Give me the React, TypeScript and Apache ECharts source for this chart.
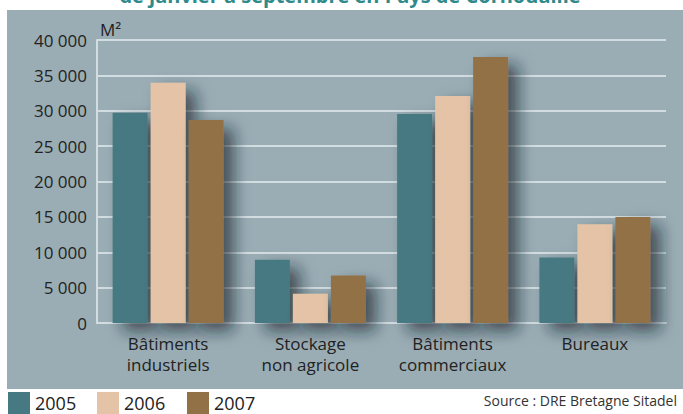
import React, { useEffect, useRef } from "react";
import * as echarts from "echarts";

const categories = ["Bâtiments\nindustriels", "Stockage\nnon agricole", "Bâtiments\ncommerciaux", "Bureaux"];
const years = ["2005", "2006", "2007"];
const values2005 = [29700, 8950, 29550, 9250];
const values2006 = [33950, 4150, 32100, 13950];
const values2007 = [28700, 6700, 37600, 15000];
const colors = ["#477982", "#e4c3a6", "#937146"];

const FONT = "'Open Sans', 'Noto Sans', sans-serif";

export default function App() {
  const ref = useRef<HTMLDivElement>(null);
  useEffect(() => {
    if (!ref.current) return;
    const chart = echarts.init(ref.current, undefined, { renderer: "svg" });
    const seriesData = [values2005, values2006, values2007];
    const shadow = {
      shadowColor: "rgba(20,30,40,0.65)",
      shadowBlur: 16,
      shadowOffsetX: 10,
      shadowOffsetY: 8,
    };
    chart.setOption({
      animation: false,
      textStyle: { fontFamily: FONT },
      grid: { left: 97, right: 17, top: 40, bottom: 91, containLabel: false },
      legend: years.map((y, i) => ({
        data: [y],
        left: [8, 97, 187][i],
        top: 392,
        itemWidth: 22,
        itemHeight: 22,
        icon: "rect",
        itemGap: 0,
        padding: 0,
        textStyle: { fontSize: 18, lineHeight: 18, color: "#222", fontFamily: FONT },
        selectedMode: false,
      })),
      xAxis: {
        type: "category",
        data: categories,
        axisLine: { lineStyle: { color: "#d2dde2", width: 2 } },
        axisTick: { inside: true, length: 6, lineStyle: { color: "#d2dde2", width: 2 } },
        axisLabel: { fontSize: 17, lineHeight: 21, color: "#222", margin: 10, fontFamily: FONT },
      },
      yAxis: {
        type: "value",
        min: 0,
        max: 40000,
        interval: 5000,
        axisLine: { show: true, lineStyle: { color: "#d2dde2", width: 2 } },
        axisTick: { show: false },
        splitLine: { lineStyle: { color: "#d2dde2", width: 2 } },
        axisLabel: {
          fontSize: 17,
          color: "#222",
          margin: 10,
          fontFamily: FONT,
          formatter: (v: number) => (v === 0 ? "0" : `${v / 1000} 000`),
        },
      },
      series: years.map((y, i) => ({
        name: y,
        type: "bar",
        data: seriesData[i],
        barWidth: 35,
        barGap: "8.6%",
        itemStyle: { color: colors[i], ...shadow },
      })),
      graphic: [
        {
          type: "rect",
          z: -100,
          silent: true,
          shape: { x: 7, y: 10, width: 676, height: 379 },
          style: { fill: "#9aadb5" },
        },
        {
          type: "text",
          z: 100,
          x: 350,
          y: -5,
          style: {
            text: "de janvier à septembre en Pays de Cornouaille",
            fill: "#2f8a8c",
            font: `bold 20px ${FONT}`,
            align: "center",
            verticalAlign: "middle",
          },
        },
        {
          type: "text",
          x: 100,
          y: 29,
          style: {
            text: "M²",
            fill: "#222",
            font: `17px ${FONT}`,
            align: "left",
            verticalAlign: "middle",
          },
        },
        {
          type: "text",
          x: 677,
          y: 400,
          style: {
            text: "Source : DRE Bretagne Sitadel",
            fill: "#333",
            font: `14px ${FONT}`,
            align: "right",
            verticalAlign: "middle",
          },
        },
      ],
    });
    return () => chart.dispose();
  }, []);
  return (
    <div
      ref={ref}
      style={{ position: "fixed", left: 0, top: 0, width: 683, height: 414, background: "#fff" }}
    />
  );
}
